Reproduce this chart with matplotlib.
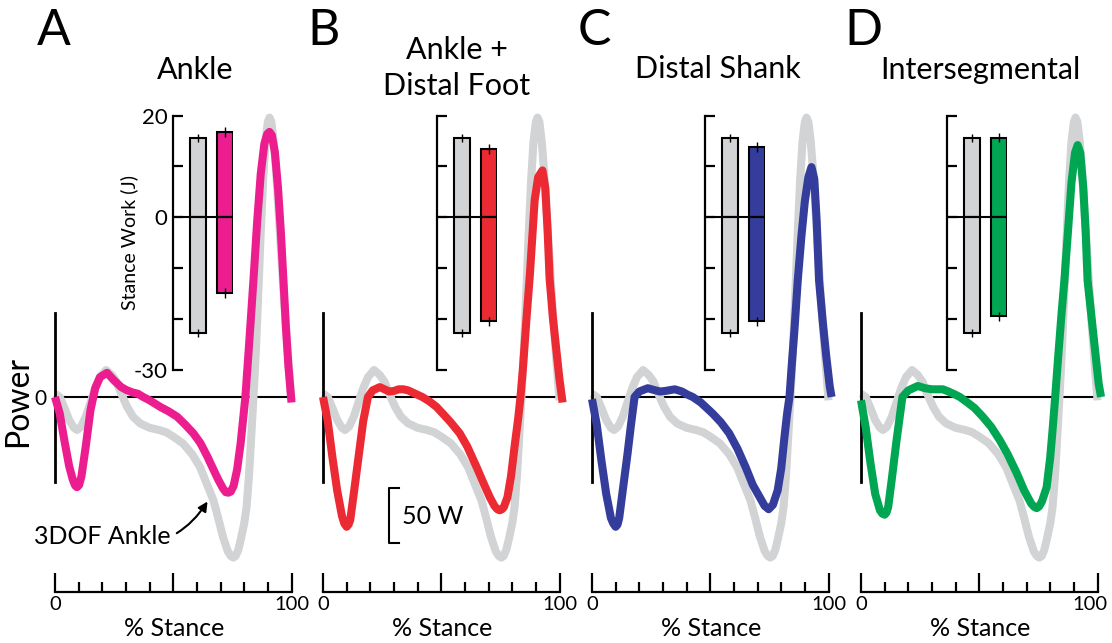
import matplotlib
matplotlib.use("Agg")
import matplotlib.pyplot as plt
import matplotlib.transforms as mtransforms
from matplotlib.ticker import FixedLocator

plt.rcParams['font.family'] = ['Lato', 'DejaVu Sans']

# ---------------- data ----------------
# 3DOF ankle reference power curve (gray), % stance vs W
gray_pct = [0, 2, 4, 6, 8, 9.3, 11, 13, 15, 17, 19, 21.6, 24, 26, 28, 30.5, 33, 36, 40, 44,
            47, 50, 54, 58, 61.4, 64, 67, 69, 71, 73, 74.3, 75.4, 76.4, 77.5, 78.5, 80, 81, 82, 83, 84, 85, 86,
            87, 88, 89, 90, 90.7, 91.5, 92.5, 93.5, 94.5, 95.5, 96.5, 97.5, 98.5, 100]
gray_w = [3, 0, -10, -21, -28, -30, -27, -18, -5, 8, 18, 24.5, 20, 14, 3, -9, -18, -24, -28, -30,
          -32, -36, -42, -52, -64, -78, -94, -110, -127, -140, -144.5, -146, -144.5, -139, -130, -115, -100, -72, -35, 3, 45, 97,
          150, 197, 232, 250, 254, 250, 232, 205, 170, 135, 100, 68, 38, -3]

# A: Ankle
ankle_pct = [0, 2, 4, 6, 7.5, 8.5, 9.3, 10.2, 11.2, 13, 15, 17, 19, 22, 25, 28, 30.5, 33, 35, 37.3, 40, 44.5,
             48, 51.7, 55, 58.5, 61.5, 64.4, 67, 69, 71, 72.2, 73.3, 74.3, 75.5, 77, 78.5, 80.5, 82.2, 83.9, 85.5, 87,
             88.5, 89.7, 90.7, 91.7, 93, 94.3, 95.5, 96.6, 97.6, 98.7, 100]
ankle_w = [0, -15, -40, -63, -75, -80.5, -82, -80, -72, -45, -12, 8, 18, 22, 15, 9, 6, 4, 3, 0, -3, -9,
           -13, -18, -25, -33, -42, -54, -66, -75, -83, -86.5, -87, -86, -81, -66, -42, 0, 52, 106, 160, 203,
           230, 239, 241, 238, 222, 190, 150, 106, 65, 28, -5]

# B: Ankle + Distal Foot
foot_pct = [0, 2, 4, 6, 8, 9, 10, 10.8, 11.5, 13, 15, 17, 19, 21, 24, 26, 28, 30, 32, 34, 36, 38,
            40, 42, 45, 48, 50.6, 54, 57.8, 61, 65, 68, 70.5, 72.5, 73.7, 74.7, 75.7, 76.5, 78, 79.5, 81, 82.5, 83.5, 84.5,
            86, 87.5, 89.5, 91, 92.8, 94, 95, 95.8, 97.2, 98.7, 100, 101.3]
foot_w = [0, -22, -55, -85, -108, -115, -118, -116, -112, -88, -55, -22, 0, 6, 9, 7, 5, 5.5, 7, 7, 6, 4,
          2, 0, -4, -9, -15, -23, -33, -45, -64, -79, -91, -99, -102, -103, -102, -100, -91, -72, -45, -20, 0, 25,
          70, 112, 179, 200, 206, 190, 150, 108, 72, 42, 16, -5]

# C: Distal Shank
shank_pct = [0, 2, 4, 6, 8, 9, 10, 10.8, 11.5, 13, 15, 16.5, 18, 20, 23.6, 26, 28.7, 31, 35, 38, 40.5, 42.6,
             46, 48.5, 51, 54.5, 58, 61.5, 65, 68, 70.9, 73, 74.7, 76.5, 78.5, 80, 81.4, 82.5, 83.5, 84.5, 85.6, 87,
             88.5, 90, 91.5, 92.8, 94, 95, 96, 97.5, 99, 100.5, 101.3]
shank_w = [-2, -25, -58, -88, -110, -115, -118, -116, -110, -85, -52, -25, 0, 5, 8, 6.5, 5, 5.5, 7, 5, 2, 0,
           -5, -10, -15, -23, -33, -47, -64, -80, -91, -99, -102, -98, -85, -65, -36, -15, 0, 30, 61, 106,
           145, 178, 200, 209, 198, 160, 106, 70, 38, 10, 0]

# D: Intersegmental
inter_pct = [0, 2, 4, 6, 8, 9, 10, 10.8, 11.5, 13, 15, 17.5, 20, 24, 27, 30, 34.6, 37, 40, 41.8, 45, 48,
             51.5, 55, 58.6, 62, 65.8, 69, 72, 73.3, 74.3, 75.3, 76.5, 78.5, 80, 81, 82, 83.5, 84.8, 86, 87.5, 89, 90.5, 91.6,
             92.7, 94, 95, 95.8, 97.5, 99, 100.5, 101.5]
inter_w = [-3, -28, -60, -88, -103, -106, -107, -105, -100, -75, -40, 0, 6, 10, 8, 7, 7, 5, 2, 0, -5, -10,
           -18, -27, -39, -52, -69, -85, -97, -100, -101, -99.5, -95, -82, -55, -30, -3, 40, 76, 106, 150, 195, 222, 229,
           222, 190, 150, 106, 72, 42, 12, 0]

# Stance work (J): positive, negative, error
gray_work = (15.6, -22.9)
gray_err = 0.8
model_work_pos = [16.8, 13.4, 13.8, 15.6]
model_work_neg = [-15.0, -20.5, -20.5, -19.5]
model_err = [1.0, 0.9, 0.9, 0.9]

titles = ["Ankle", "Ankle +\nDistal Foot", "Distal Shank", "Intersegmental"]
letters = ["A", "B", "C", "D"]
colors = ["#EC1E8F", "#EC2A33", "#343D9B", "#00A651"]
gray_c = "#D1D3D4"
curves = [(ankle_pct, ankle_w), (foot_pct, foot_w), (shank_pct, shank_w), (inter_pct, inter_w)]

# ---------------- layout ----------------
W, H = 1112, 643
fig = plt.figure(figsize=(W / 100, H / 100), dpi=100)


def add_ax(left, top, width, height):
    return fig.add_axes([left / W, 1 - (top + height) / H, width / W, height / H])


PXX = 2.365   # px per % stance
PXY = 1.1     # px per W
x0s = [55, 323, 592, 861]
inset_left = [173, 437, 705, 947]
title_pos = [(195, 70), (457, 68), (718, 69), (980, 70)]
letter_pos = [(54, 31), (324, 31), (594, 31), (863, 31)]
ax_w = 105 * PXX

for i in range(4):
    ax = add_ax(x0s[i] - 2 * PXX, 397 - 262 * PXY, ax_w, 439 * PXY)
    ax.set_xlim(-2, 103)
    ax.set_ylim(-177, 262)
    ax.patch.set_visible(False)
    ax.hlines(0, 0, 100, color='k', lw=1.5, zorder=1)
    ax.plot(gray_pct, gray_w, color=gray_c, lw=5.8, solid_capstyle='butt', solid_joinstyle='round',
            zorder=2, clip_on=False)
    px, pw = curves[i]
    ax.plot(px, pw, color=colors[i], lw=5.8, solid_capstyle='butt', solid_joinstyle='round',
            zorder=3, clip_on=False)

    for s in ['top', 'right']:
        ax.spines[s].set_visible(False)
    ax.spines['left'].set_position(('data', 0))
    ax.spines['left'].set_bounds(-77, 76)
    ax.spines['left'].set_linewidth(2)
    ax.spines['bottom'].set_bounds(0, 100)
    ax.spines['bottom'].set_linewidth(1.6)
    ax.set_xticks([0, 50, 100])
    ax.set_xticklabels(['0', '', '100'])
    ax.xaxis.set_minor_locator(FixedLocator([10, 20, 30, 40, 60, 70, 80, 90]))
    ax.tick_params(axis='x', which='major', direction='in', length=14, width=1.6, labelsize=14.5, pad=3)
    ax.tick_params(axis='x', which='minor', direction='in', length=7, width=1.6)
    ax.set_xlabel('% Stance', fontsize=18, labelpad=3)
    ax.set_yticks([0])
    ax.tick_params(axis='y', length=0, pad=6, labelsize=15)
    if i == 3:
        lab = ax.get_xticklabels()[2]
        lab.set_transform(lab.get_transform() +
                          mtransforms.ScaledTranslation(-8 / 100, 0, fig.dpi_scale_trans))
    if i == 0:
        ax.set_yticklabels(['0'])
        ax.set_ylabel('Power', fontsize=23)
        ax.yaxis.set_label_coords((33 - (x0s[0] - 2 * PXX)) / ax_w, 0.395)
        ax.annotate('3DOF Ankle', xy=(64.5, -95), xytext=(19.9, -127), textcoords='data',
                    fontsize=18, ha='center', va='center',
                    arrowprops=dict(arrowstyle='-|>', color='k', lw=1.5, mutation_scale=14,
                                    connectionstyle='arc3,rad=0.4', shrinkA=3, shrinkB=0))
    else:
        ax.set_yticklabels([''])
    if i == 1:
        ax.plot([32, 28, 28, 32], [-83, -83, -133, -133], color='k', lw=1.5)
        ax.text(33.3, -109, '50 W', fontsize=18, ha='left', va='center')

    # inset bar chart of stance work
    ai = add_ax(inset_left[i], 115.5, 59.6, 254)
    ai.patch.set_visible(False)
    ai.set_xlim(0.05, 2.3)
    ai.set_ylim(-30, 20)
    ai.bar([1, 2], [gray_work[0], model_work_pos[i]], width=0.6, color=[gray_c, colors[i]],
           edgecolor='k', lw=1.5, zorder=2)
    ai.bar([1, 2], [gray_work[1], model_work_neg[i]], width=0.6, color=[gray_c, colors[i]],
           edgecolor='k', lw=1.5, zorder=2)
    ai.errorbar([1, 2, 1, 2], [gray_work[0], model_work_pos[i], gray_work[1], model_work_neg[i]],
                yerr=[gray_err, model_err[i], gray_err, model_err[i]], fmt='none', ecolor='k',
                elinewidth=1, capsize=0, zorder=4)
    ai.axhline(0, color='k', lw=1.5, zorder=3)
    for s in ['top', 'right', 'bottom']:
        ai.spines[s].set_visible(False)
    ai.spines['left'].set_linewidth(1.6)
    ai.set_xticks([])
    ai.set_yticks([-30, -20, -10, 0, 10, 20])
    ai.tick_params(axis='y', direction='in', length=7, width=1.6, labelsize=16, pad=4)
    if i == 0:
        ai.set_yticklabels(['-30', '', '', '0', '', '20'])
        ai.set_ylabel('Stance Work (J)', fontsize=14)
        ai.yaxis.set_label_coords((138 - inset_left[0]) / 59.6, 0.5)
    else:
        ai.set_yticklabels([''] * 6)

    fig.text(title_pos[i][0] / W, 1 - title_pos[i][1] / H, titles[i], fontsize=22,
             ha='center', va='center', linespacing=1.35)
    fig.text(letter_pos[i][0] / W, 1 - letter_pos[i][1] / H, letters[i], fontsize=36,
             ha='center', va='center')

fig.savefig('out.png', dpi=100)
